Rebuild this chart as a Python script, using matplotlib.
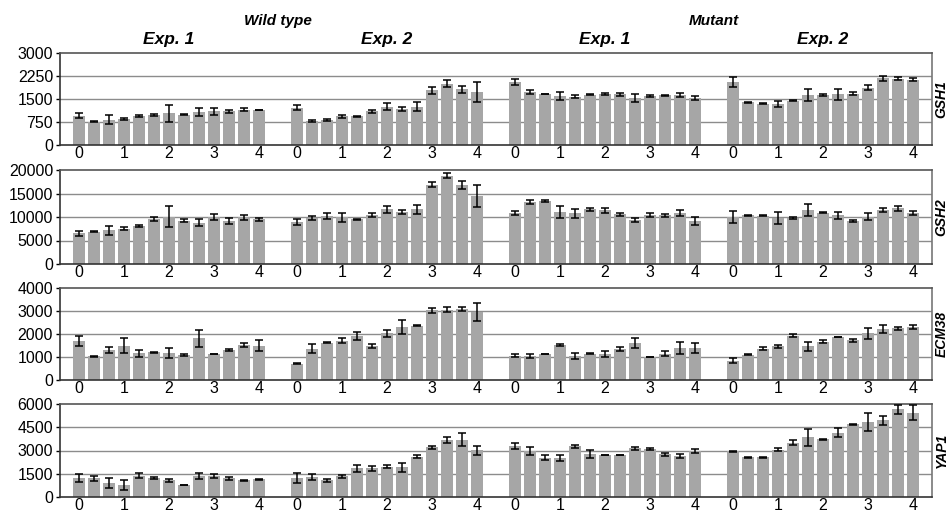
import numpy as np
import matplotlib
matplotlib.use("Agg")
import matplotlib.pyplot as plt

plt.rcParams['font.family'] = ['Liberation Sans', 'DejaVu Sans']

# time points per experiment: 0 .. 4 h in 20 min steps (13 bars)
GROUPS = ["WT Exp. 1", "WT Exp. 2", "Mutant Exp. 1", "Mutant Exp. 2"]
GENES = ["GSH1", "GSH2", "ECM38", "YAP1"]
TICK_LABELS = ["0", "1", "2", "3", "4"]

# GSH1
gsh1_vals = [
    [953, 760, 825, 846, 943, 975, 1040, 985, 1082, 1093, 1104, 1157, 1146],
    [1221, 782, 825, 932, 932, 1093, 1254, 1168, 1254, 1779, 2004, 1811, 1725],
    [2046, 1725, 1661, 1596, 1575, 1639, 1671, 1650, 1543, 1596, 1618, 1639, 1532],
    [2046, 1393, 1350, 1329, 1446, 1629, 1639, 1661, 1671, 1864, 2175, 2154, 2132],
]
gsh1_err = [
    [85, 15, 150, 20, 25, 25, 280, 15, 130, 120, 50, 55, 10],
    [75, 30, 30, 45, 15, 60, 120, 60, 160, 120, 120, 110, 320],
    [95, 55, 10, 120, 50, 10, 40, 50, 130, 45, 25, 60, 50],
    [160, 10, 5, 90, 10, 210, 40, 180, 45, 80, 75, 50, 50],
]

# GSH2
gsh2_vals = [
    [6500, 6860, 7210, 7500, 8070, 9640, 10070, 9210, 8790, 9930, 9140, 9930, 9500],
    [8930, 9790, 10210, 9930, 9500, 10430, 11640, 11070, 11640, 16860, 18790, 16860, 14500],
    [10930, 13210, 13430, 11070, 10790, 11640, 11430, 10570, 9360, 10430, 10360, 10790, 9140],
    [10070, 10360, 10290, 9710, 9860, 11500, 10860, 10360, 9140, 10070, 11500, 11860, 10930],
]
gsh2_err = [
    [530, 150, 960, 350, 250, 400, 2300, 300, 700, 650, 700, 500, 300],
    [550, 500, 600, 900, 100, 500, 800, 500, 1000, 500, 500, 800, 2400],
    [400, 500, 250, 1250, 900, 300, 500, 300, 400, 500, 300, 600, 800],
    [1250, 100, 150, 1250, 200, 1250, 100, 700, 300, 800, 500, 500, 400],
]

# ECM38
ecm38_vals = [
    [1700, 1030, 1310, 1490, 1170, 1200, 1170, 1100, 1810, 1130, 1310, 1530, 1500],
    [700, 1360, 1630, 1710, 1910, 1490, 2030, 2310, 2360, 3030, 3060, 3090, 2960],
    [1060, 1030, 1130, 1530, 1060, 1140, 1130, 1340, 1600, 1000, 1140, 1390, 1390],
    [840, 1100, 1360, 1460, 1930, 1460, 1670, 1860, 1730, 2030, 2210, 2240, 2310],
]
ecm38_err = [
    [230, 20, 130, 330, 150, 10, 220, 40, 360, 15, 50, 80, 260],
    [20, 200, 30, 100, 160, 80, 160, 300, 30, 100, 100, 100, 400],
    [50, 80, 15, 50, 130, 30, 130, 80, 230, 20, 100, 250, 200],
    [100, 20, 70, 80, 50, 210, 60, 10, 60, 250, 180, 70, 80],
]

# YAP1
yap1_vals = [
    [1220, 1200, 900, 770, 1370, 1200, 1090, 770, 1350, 1350, 1200, 1070, 1140],
    [1220, 1290, 1090, 1350, 1840, 1840, 1950, 1910, 2610, 3210, 3690, 3690, 3020],
    [3280, 2980, 2530, 2530, 3280, 2760, 2720, 2700, 3130, 3110, 2760, 2660, 2980],
    [2940, 2550, 2550, 3040, 3510, 3840, 3710, 4160, 4690, 4840, 4950, 5660, 5440],
]
yap1_err = [
    [250, 150, 300, 300, 150, 60, 100, 20, 200, 150, 100, 50, 30],
    [340, 200, 100, 100, 200, 180, 100, 280, 80, 100, 200, 420, 300],
    [200, 250, 150, 200, 100, 250, 20, 20, 100, 60, 100, 120, 130],
    [60, 30, 30, 100, 150, 560, 20, 320, 20, 590, 300, 300, 480],
]

VALUES = [gsh1_vals, gsh2_vals, ecm38_vals, yap1_vals]
ERRORS = [gsh1_err, gsh2_err, ecm38_err, yap1_err]
Y_TICKS = [
    [0, 750, 1500, 2250, 3000],
    [0, 5000, 10000, 15000, 20000],
    [0, 1000, 2000, 3000, 4000],
    [0, 1500, 3000, 4500, 6000],
]

W, H = 949, 515
N_BARS = 13
GROUP_STEP = 14.55
ROWS_PX = [(53, 145), (170, 264), (288, 380), (404, 497)]
LEFT_PX, RIGHT_PX = 60, 932
BAR_COLOR = "#a6a6a6"
GRID_COLOR = "#8c8c8c"

fig = plt.figure(figsize=(W / 100, H / 100), dpi=100)

offsets = [g * GROUP_STEP for g in range(len(GROUPS))]
x_lo = -1.27
x_hi = offsets[-1] + N_BARS - 1 + 1.27

axes = []
for r, gene in enumerate(GENES):
    top, bot = ROWS_PX[r]
    ax = fig.add_axes([LEFT_PX / W, 1 - bot / H,
                       (RIGHT_PX - LEFT_PX) / W, (bot - top) / H])
    ticks = Y_TICKS[r]
    for y in ticks[1:-1]:
        ax.axhline(y, color=GRID_COLOR, lw=1, zorder=0)
    xt, xl = [], []
    for g, off in enumerate(offsets):
        x = off + np.arange(N_BARS)
        ax.bar(x, VALUES[r][g], width=0.8, color=BAR_COLOR,
               edgecolor="none", zorder=2)
        ax.errorbar(x, VALUES[r][g], yerr=ERRORS[r][g], fmt="none",
                    ecolor="black", elinewidth=1.1, capsize=3.2,
                    capthick=1.1, zorder=3)
        xt += list(off + np.arange(0, N_BARS, 3))
        xl += TICK_LABELS
    ax.set_xlim(x_lo, x_hi)
    ax.set_ylim(0, ticks[-1])
    ax.set_yticks(ticks)
    ax.set_yticklabels([str(t) for t in ticks], fontsize=11.5)
    ax.set_xticks(xt)
    ax.set_xticklabels(xl, fontsize=11.5)
    ax.tick_params(axis="x", length=0, pad=1)
    ax.tick_params(axis="y", length=3, width=1, pad=2)
    ax.spines["left"].set_color("#333333")
    ax.spines["bottom"].set_color("#333333")
    ax.spines["top"].set_color("#555555")
    ax.spines["right"].set_color("#777777")
    for s in ax.spines.values():
        s.set_linewidth(1.2)
    ax.text(1.003, 0.5, gene, transform=ax.transAxes, rotation=90,
            ha="left", va="center", fontsize=10, fontweight="bold",
            fontstyle="italic")
    axes.append(ax)

# headers above the first row
top_ax = axes[0]
centers = [off + (N_BARS - 1) / 2 for off in offsets]
for c, lab in zip(centers, ["Exp. 1", "Exp. 2", "Exp. 1", "Exp. 2"]):
    top_ax.text(c, 1.15, lab, transform=top_ax.get_xaxis_transform(),
                ha="center", va="center", fontsize=12.5, fontweight="bold",
                fontstyle="italic")
for a, b, lab in [(0, 1, "Wild type"), (2, 3, "Mutant")]:
    top_ax.text((centers[a] + centers[b]) / 2, 1.35, lab,
                transform=top_ax.get_xaxis_transform(),
                ha="center", va="center", fontsize=11, fontweight="bold",
                fontstyle="italic")

fig.savefig("out.png", dpi=100)
